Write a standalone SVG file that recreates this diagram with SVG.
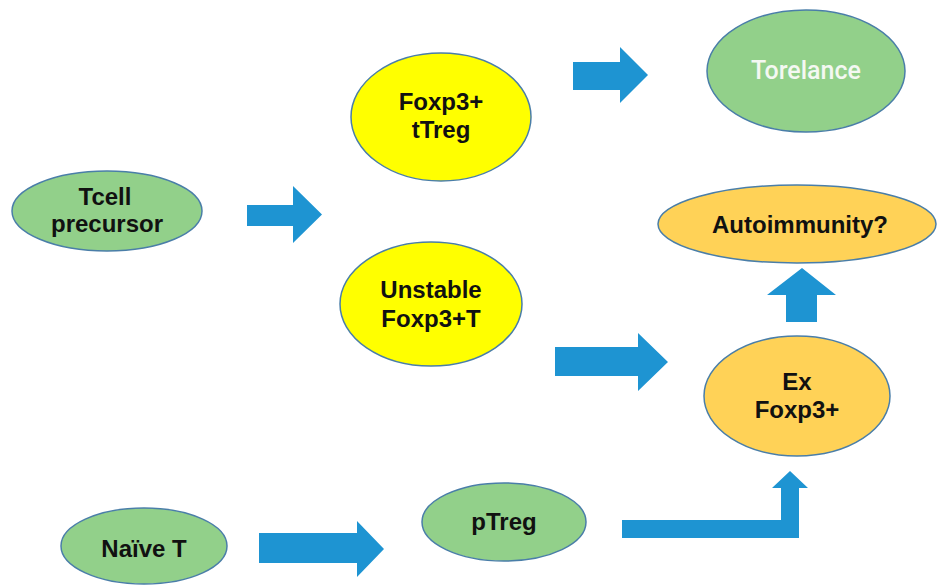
<svg xmlns="http://www.w3.org/2000/svg" width="937" height="585" viewBox="0 0 937 585">
<style>
.green{fill:#92D08A;stroke:#4A7EA8;stroke-width:1.5}
.yellow{fill:#FFFF00;stroke:#4A7EA8;stroke-width:1.5}
.orange{fill:#FFD257;stroke:#4A7EA8;stroke-width:1.5}
.lbl{font-family:"Liberation Sans",Arial,sans-serif;font-weight:bold;font-size:24px;fill:#111;text-anchor:middle}
.wlbl{font-family:Roboto,"Liberation Sans",sans-serif;font-weight:500;font-size:25px;fill:#F4F8F2;text-anchor:middle}
.arrow{fill:#1E94D2}
</style>
<rect width="937" height="585" fill="#fff"/>
<g id="connectors">
<path class="arrow" d="M247,205 H293 V186 L322,214.5 L293,243 V226 H247 Z"/>
<path class="arrow" d="M573,62 H620 V47 L648,75 L620,103 V90 H573 Z"/>
<path class="arrow" d="M555,347 H638 V333 L668,362 L638,391 V376 H555 Z"/>
<path class="arrow" d="M259,533 H357 V521 L384,549 L357,577 V563 H259 Z"/>
<path class="arrow" d="M786,322 V295 H767 L802,268 L836,295 H817 V322 Z"/>
<path class="arrow" d="M622,520 H781 V488 H772 L790,471 L808,488 H799 V538 H622 Z"/>
</g>
<g id="tcell">
<ellipse class="green" cx="107" cy="211" rx="95" ry="40"/>
<text class="lbl" x="105" y="205">Tcell</text>
<text class="lbl" x="107" y="232">precursor</text>
</g>
<g id="ttreg">
<ellipse class="yellow" cx="441" cy="117" rx="90" ry="64"/>
<text class="lbl" x="441" y="110">Foxp3+</text>
<text class="lbl" x="441" y="138">tTreg</text>
</g>
<g id="torelance">
<ellipse class="green" cx="806" cy="71" rx="99" ry="61"/>
<text class="wlbl" x="806" y="79">Torelance</text>
</g>
<g id="unstable">
<ellipse class="yellow" cx="431" cy="304" rx="91" ry="62"/>
<text class="lbl" x="431" y="298">Unstable</text>
<text class="lbl" x="431" y="327">Foxp3+T</text>
</g>
<g id="autoimmunity">
<ellipse class="orange" cx="797" cy="224" rx="139" ry="39"/>
<text class="lbl" x="800" y="233">Autoimmunity?</text>
</g>
<g id="exfoxp3">
<ellipse class="orange" cx="797" cy="396" rx="93" ry="60"/>
<text class="lbl" x="797" y="390">Ex</text>
<text class="lbl" x="797" y="418">Foxp3+</text>
</g>
<g id="ptreg">
<ellipse class="green" cx="504" cy="522" rx="82" ry="39"/>
<text class="lbl" x="504" y="530">pTreg</text>
</g>
<g id="naive">
<ellipse class="green" cx="144" cy="546" rx="83" ry="38"/>
<text class="lbl" x="144" y="557">Naïve T</text>
</g>
</svg>
